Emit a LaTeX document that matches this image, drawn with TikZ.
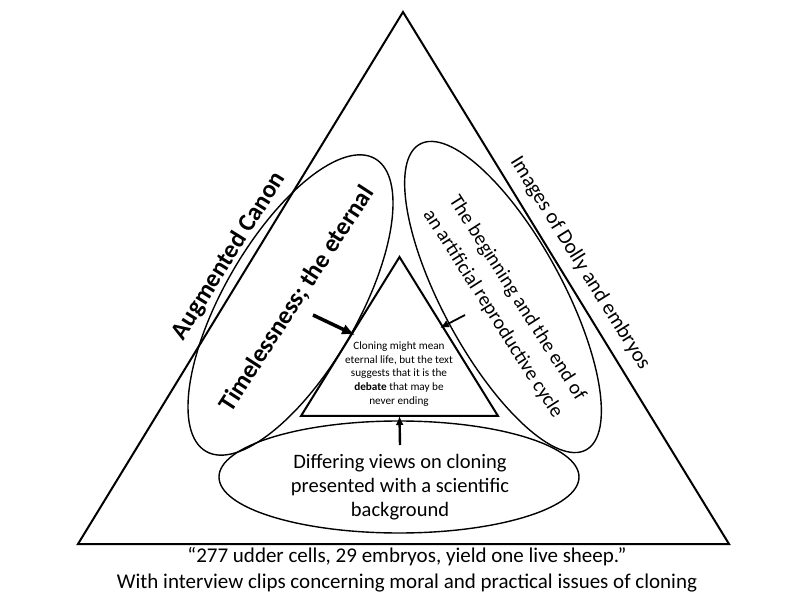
\documentclass[tikz,border=0pt]{standalone}
\usepackage{fontspec}
\setmainfont{Carlito}
\usetikzlibrary{arrows.meta,shapes.geometric}

\begin{document}
\begin{tikzpicture}[x=1pt,y=1pt,>=latex,
    oval/.style={draw,ellipse,line width=1.4pt,inner sep=0pt},
    sidetext/.style={font=\fontsize{20}{27}\selectfont,align=center},
    boldtext/.style={font=\bfseries\fontsize{25}{30}\selectfont}]
    \useasboundingbox (0,0) rectangle (800,600);
    % outer and inner triangle
    \coordinate (Top) at (403,588);
    \coordinate (Left) at (78,56);
    \coordinate (Right) at (729,56);
    \draw [line width=2pt] (Top) -- (Left) -- (Right) -- cycle;
    \coordinate (InTop) at (399.5,343);
    \coordinate (InLeft) at (301,184);
    \coordinate (InRight) at (498,184);
    \draw [line width=2pt] (InTop) -- (InLeft) -- (InRight) -- cycle;
    % ellipses
    \node [oval,rotate=60,minimum width=338,minimum height=134] (TimeOval) at (290.5,295) {};
    \node [oval,rotate=-61.5,minimum width=348,minimum height=120] (CycleOval) at (503,303) {};
    \node [oval,minimum width=360,minimum height=112] (ViewsOval) at (399,123) {};
    % texts
    \node [font=\fontsize{11.2}{13.8}\selectfont,align=center] (Debate) at (399,226)
        {Cloning might mean\\eternal life, but the text\\suggests that it is the\\\textbf{debate} that may be\\never ending};
    \node [sidetext,font=\fontsize{20.5}{24}\selectfont] (Views) at (400,113)
        {Differing views on cloning\\presented with a scientific\\background};
    \node [boldtext,rotate=58] (Canon) at (229,344) {Augmented Canon};
    \node [boldtext,rotate=57] (Eternal) at (297,301) {Timelessness; the eternal};
    \node [sidetext,rotate=-57.5] (Cycle) at (505,294)
        {The beginning and the end of\\[2pt]an artificial reproductive cycle};
    \node [sidetext,font=\fontsize{21}{27}\selectfont,rotate=-58] (Dolly) at (580,337) {Images of Dolly and embryos};
    \node [sidetext,font=\fontsize{21}{26}\selectfont] (Sheep) at (407,30)
        {“277 udder cells, 29 embryos, yield one live sheep.”\\With interview clips concerning moral and practical issues of cloning};
    % arrows into the inner triangle
    \coordinate (EternalTail) at (313,285);
    \coordinate (EternalTip) at (355,265);
    \draw [-{Latex[length=13pt,width=11pt]},line width=3.5pt] (EternalTail) -- (EternalTip);
    \coordinate (CycleTail) at (465,285);
    \coordinate (CycleTip) at (440,272);
    \draw [-{Latex[length=9pt,width=8pt]},line width=1.8pt] (CycleTail) -- (CycleTip);
    \coordinate (ViewsTail) at (400,155);
    \coordinate (ViewsTip) at (399.5,184);
    \draw [-{Latex[length=9pt,width=8pt]},line width=2.4pt] (ViewsTail) -- (ViewsTip);
\end{tikzpicture}
\end{document}
